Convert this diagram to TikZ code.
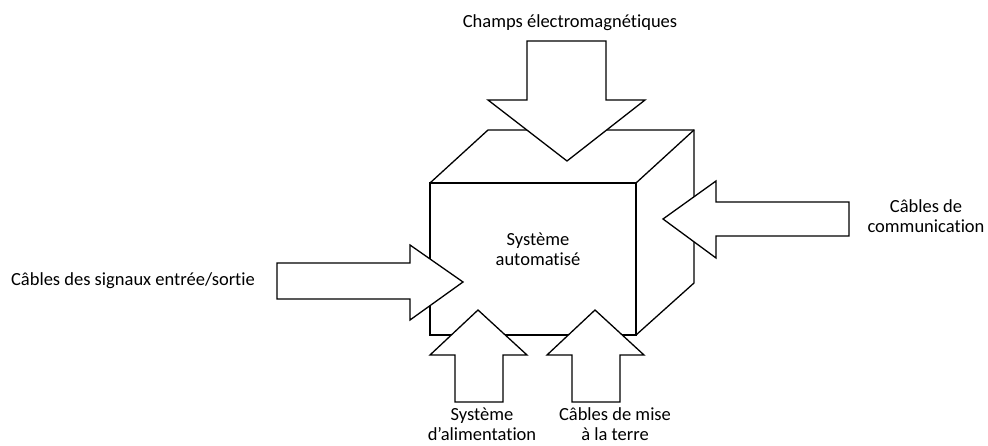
\documentclass[tikz,border=0pt]{standalone}
\usepackage{fontspec}
\setmainfont{Carlito}[Ligatures=NoCommon]
\usetikzlibrary{positioning}
\tikzstyle{cube}=[draw=black,line width=1.3bp,line join=miter]
\tikzstyle{inarrow}=[draw=black,fill=white,line width=1.3bp,line join=miter]
\tikzstyle{lbl}=[align=center,inner sep=0pt,font=\fontsize{18.5bp}{20bp}\selectfont]

\begin{document}
\begin{tikzpicture}[x=1bp,y=-1bp]
			\useasboundingbox (0,0) rectangle (988,446);
			
			% cube
			\draw[cube] (430,183) rectangle (636,335);
			\draw[cube] (430,183) -- (488,130) -- (694,130) -- (694,283) -- (636,335);
			\draw[cube] (636,183) -- (694,130);
			
			% arrows
			\path[inarrow] (527,41) -- (606,41) -- (606,100) -- (645,100) -- (567,161) -- (488,100) -- (527,100) -- cycle;
			\path[inarrow] (277,263) -- (410,263) -- (410,245) -- (463,282) -- (410,320) -- (410,299) -- (277,299) -- cycle;
			\path[inarrow] (849,202) -- (716,202) -- (716,181) -- (663,219) -- (716,258) -- (716,236) -- (849,236) -- cycle;
			\path[inarrow] (455,402) -- (455,355) -- (430,355) -- (478,310) -- (527,355) -- (503,355) -- (503,402) -- cycle;
			\path[inarrow] (572,402) -- (572,355) -- (547,355) -- (595,310) -- (644,355) -- (620,355) -- (620,402) -- cycle;
			
			% labels
			\node[lbl] (sys)   at (538,249) {Système\\automatisé};
			\node[lbl] (champ) at (570,23)  {Champs électromagnétiques};
			\node[lbl] (es)    at (133,281) {Câbles des signaux entrée/sortie};
			\node[lbl] (comm)  at (926,216) {Câbles de\\communication};
			\node[lbl] (alim)  at (482,424) {Système\\d’alimentation};
			\node[lbl] (terre) at (615,424) {Câbles de mise\\à la terre};
			
\end{tikzpicture}
\end{document}
